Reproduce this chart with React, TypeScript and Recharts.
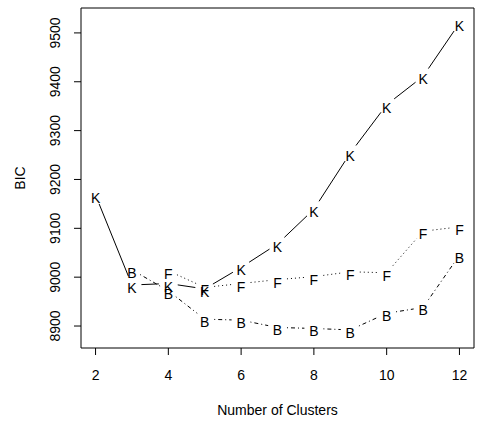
import React from 'react';
import { LineChart, Line, XAxis, YAxis } from 'recharts';

const clusters = [2, 3, 4, 5, 6, 7, 8, 9, 10, 11, 12];
const bicK = [9168, 8984, 8987, 8976, 9020, 9068, 9139, 9254, 9353, 9411, 9520];
const bicF = [null, null, 9013, 8979, 8987, 8995, 9001, 9011, 9009, 9094, 9103];
const bicB = [null, 9015, 8972, 8914, 8912, 8897, 8895, 8892, 8926, 8938, 9045];
const xTicks = [2, 4, 6, 8, 10, 12];
const yTicks = [8900, 9000, 9100, 9200, 9300, 9400, 9500];

const data = clusters.map((n, i) => ({ n, K: bicK[i], F: bicF[i], B: bicB[i] }));

const FONT = '"Liberation Sans", Arial, Helvetica, sans-serif';
const FS = 14;
const GAP = 9.5;

// R type="b": letter at each point, segments to the next point with a gap round both ends
function letterDot(letter: string, dash?: string) {
  return (props: any) => {
    const { cx, cy, index, points } = props;
    if (cx == null || cy == null) return <g key={`d-${letter}-${index}`} />;
    let seg = null;
    const next = points && points[index + 1];
    if (next && next.x != null && next.y != null) {
      const dx = next.x - cx;
      const dy = next.y - cy;
      const len = Math.sqrt(dx * dx + dy * dy);
      if (len > 2 * GAP) {
        const ux = dx / len;
        const uy = dy / len;
        seg = (
          <line
            x1={cx + ux * GAP}
            y1={cy + uy * GAP}
            x2={next.x - ux * GAP}
            y2={next.y - uy * GAP}
            stroke="#000"
            strokeWidth={1}
            strokeDasharray={dash}
          />
        );
      }
    }
    return (
      <g key={`d-${letter}-${index}`}>
        {seg}
        <text x={cx} y={cy + 8} textAnchor="middle" fontSize={FS} fontFamily={FONT} fill="#000">
          {letter}
        </text>
      </g>
    );
  };
}

const YTick = (props: any) => {
  const { x, y, payload } = props;
  return (
    <text
      x={x}
      y={y}
      transform={`rotate(-90, ${x}, ${y})`}
      textAnchor="middle"
      fontSize={FS}
      fontFamily={FONT}
      fill="#000"
    >
      {payload.value}
    </text>
  );
};

export default function App() {
  return (
    <div style={{ position: 'absolute', left: 0, top: 0, background: '#fff' }}>
      <LineChart width={479} height={423} data={data} margin={{ top: 0, right: 0, bottom: 0, left: 0 }}>
        <XAxis
          dataKey="n"
          type="number"
          domain={[1.6, 12.4]}
          ticks={xTicks}
          allowDataOverflow
          height={75}
          tickSize={7}
          tickMargin={15}
          stroke="#000"
          tick={{ fill: '#000', fontSize: FS, fontFamily: FONT }}
          label={{ value: 'Number of Clusters', position: 'insideBottom', offset: 8, fill: '#000', fontSize: FS, fontFamily: FONT }}
        />
        <XAxis
          xAxisId="top"
          orientation="top"
          type="number"
          domain={[1.6, 12.4]}
          height={8}
          tick={false}
          tickLine={false}
          stroke="#000"
        />
        <YAxis
          type="number"
          domain={[8855, 9551]}
          ticks={yTicks}
          allowDataOverflow
          width={81}
          tickSize={7}
          tickMargin={14}
          stroke="#000"
          tick={<YTick />}
          label={{
            content: () => (
              <text x={25} y={178} transform="rotate(-90, 25, 178)" textAnchor="middle" fontSize={FS} fontFamily={FONT} fill="#000">
                BIC
              </text>
            ),
          }}
        />
        <YAxis
          yAxisId="r"
          orientation="right"
          type="number"
          domain={[8855, 9551]}
          width={5}
          tick={false}
          tickLine={false}
          stroke="#000"
        />
        <Line dataKey="K" stroke="none" isAnimationActive={false} dot={letterDot('K')} activeDot={false} />
        <Line dataKey="F" stroke="none" isAnimationActive={false} dot={letterDot('F', '1 3')} activeDot={false} />
        <Line dataKey="B" stroke="none" isAnimationActive={false} dot={letterDot('B', '1 3 4 3')} activeDot={false} />
      </LineChart>
    </div>
  );
}
